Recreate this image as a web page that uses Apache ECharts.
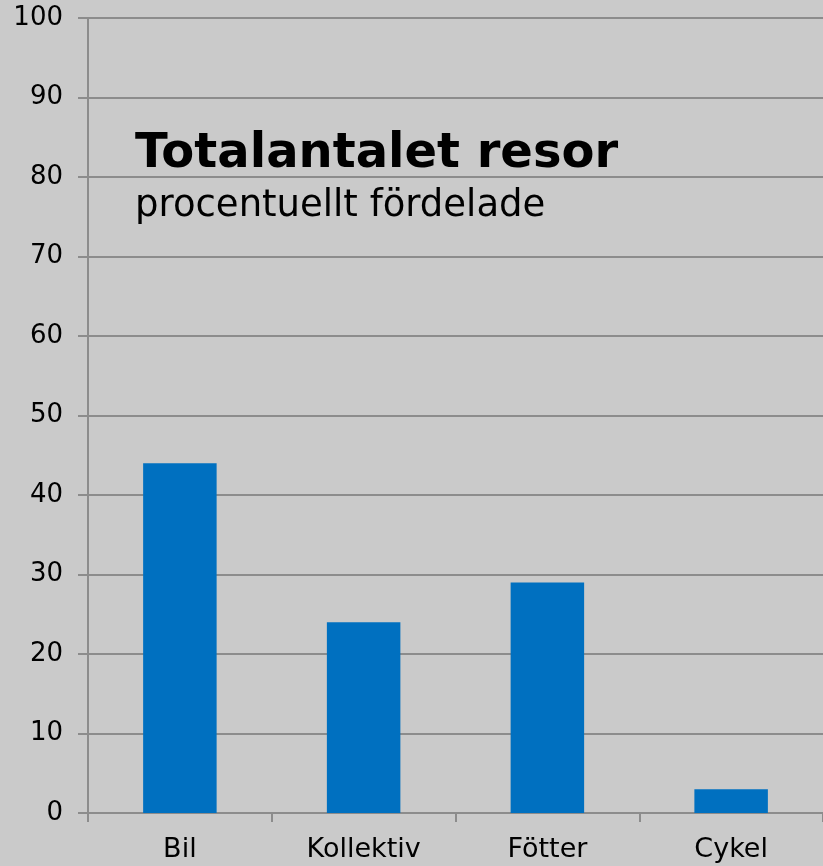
<!DOCTYPE html>
<html>
<head>
<meta charset="utf-8">
<script src="https://cdn.jsdelivr.net/npm/echarts@6/dist/echarts.min.js"></script>
<style>
html, body { margin: 0; padding: 0; background: #cacaca; }
#chart { width: 823px; height: 866px; }
</style>
</head>
<body>
<div id="chart"></div>
<script>
var categories = ['Bil', 'Kollektiv', 'Fötter', 'Cykel'];
var values = [44, 24, 29, 3];
var yTicks = [0, 10, 20, 30, 40, 50, 60, 70, 80, 90, 100];

var chart = echarts.init(document.getElementById('chart'));
var option = {
	backgroundColor: '#cacaca',
	animation: false,
	textStyle: { fontFamily: 'DejaVu Sans' },
	title: {
		text: 'Totalantalet resor',
		subtext: 'procentuellt fördelade',
		left: 130,
		top: 126,
		itemGap: 9,
		textStyle: { fontSize: 48, fontWeight: 'bold', color: '#000', fontFamily: 'DejaVu Sans' },
		subtextStyle: { fontSize: 37, color: '#000', fontFamily: 'DejaVu Sans' }
	},
	grid: {
		left: 88,
		width: 740,
		top: 18,
		bottom: 53,
		containLabel: false
	},
	xAxis: {
		type: 'category',
		data: categories,
		axisLine: { lineStyle: { color: '#8c8c8c', width: 2 } },
		axisTick: { show: true, length: 9, lineStyle: { color: '#8c8c8c', width: 2 } },
		axisLabel: { color: '#000', fontSize: 27, margin: 23 }
	},
	yAxis: {
		type: 'value',
		min: yTicks[0],
		max: yTicks[yTicks.length - 1],
		interval: 10,
		axisLine: { show: true, lineStyle: { color: '#8c8c8c', width: 2 } },
		axisTick: { show: true, length: 10, lineStyle: { color: '#8c8c8c', width: 2 } },
		splitLine: { show: true, lineStyle: { color: '#8c8c8c', width: 2 } },
		axisLabel: { color: '#000', fontSize: 26, margin: 25 }
	},
	series: [{
		type: 'bar',
		data: values,
		barWidth: '40%',
		itemStyle: { color: '#0070c0' }
	}]
};
chart.setOption(option);
</script>
</body>
</html>
